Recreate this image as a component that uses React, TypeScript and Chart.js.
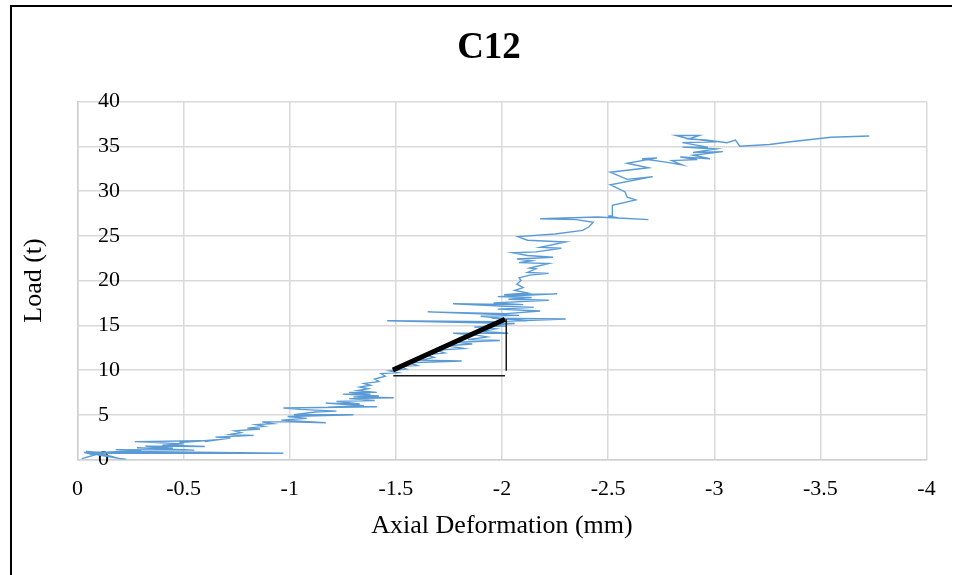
import React, { useEffect, useRef } from "react";
import { Chart, registerables } from "chart.js";

Chart.register(...registerables);

// ---- data ----
const xTickValues = [0, -0.5, -1, -1.5, -2, -2.5, -3, -3.5, -4];
const xTickLabels = ["0", "-0.5", "-1", "-1.5", "-2", "-2.5", "-3", "-3.5", "-4"];

// Axial deformation (mm)
const deformation = [
  -0.02, -0.08, -0.03, -0.12, -0.2, -0.23, -0.1, -0.04, -0.15, -0.97, -0.25, -0.08, -0.3, -0.18, -0.55, -0.28, -0.45,
  -0.32, -0.6, -0.4, -0.5, -0.27, -0.58, -0.48, -0.66,
  -0.6, -0.72, -0.65, -0.83, -0.72, -0.77, -0.74, -0.86, -0.8, -0.88, -0.84, -0.92, -0.87, -1.0, -1.17, -0.96, -1.08,
  -0.99, -1.3, -1.02, -1.12,
  -1.22, -1.05, -0.97, -1.41, -1.18, -1.35, -1.17, -1.33, -1.22, -1.4, -1.28, -1.49, -1.3, -1.42, -1.25, -1.38, -1.28,
  -1.41, -1.32, -1.37, -1.33, -1.38, -1.35, -1.42, -1.4, -1.45, -1.43, -1.51, -1.47, -1.55,
  -1.52, -1.6, -1.56, -1.81, -1.62, -1.68, -1.64, -1.73, -1.69, -1.82, -1.74, -1.86, -1.79, -1.99, -1.84, -1.93, -1.88,
  -1.77, -2.03, -1.91, -1.97, -1.87, -2.02, -1.93, -2.06, -1.46, -1.98, -2.3, -1.95, -2.12, -1.9, -2.08, -1.65, -2.02,
  -2.18, -1.98, -2.15, -2.04, -1.77, -2.1, -1.96, -2.22, -2.03, -2.14, -1.98, -2.26, -2.01, -2.12, -2.06, -2.1, -2.07,
  -2.09,
  -2.08, -2.13, -2.22, -2.12, -2.16, -2.13, -2.22, -2.08, -2.14, -2.07, -2.24, -2.12, -2.05, -2.16, -2.28, -2.18, -2.3,
  -2.12, -2.075, -2.25, -2.38, -2.41, -2.43, -2.35, -2.18, -2.45, -2.69, -2.55, -2.5, -2.52,
  -2.52, -2.63, -2.59, -2.58, -2.51, -2.71, -2.59, -2.51, -2.69, -2.59, -2.73, -2.66, -2.78, -2.85, -2.8, -2.92, -2.84,
  -2.98, -2.9, -3.04, -2.9, -3.01, -2.85, -2.97, -2.85, -3.01, -2.87, -2.82, -2.93, -2.88, -2.96, -3.06, -3.1, -3.12,
  -3.26, -3.36, -3.55, -3.73,
];

// Load (t)
const load = [
  0.1, 0.5, 0.8, 0.6, 0.1, 0.0, 0.5, 0.9, 0.7, 0.7, 0.9, 0.75, 1.0, 1.1, 1.05, 1.3, 1.25,
  1.5, 1.45, 1.6, 1.75, 2.0, 2.1, 1.9, 2.2,
  2.0, 2.4, 2.5, 2.7, 2.8, 3.0, 3.2, 3.4, 3.5, 3.7, 3.9, 4.0, 4.2, 4.2, 4.1, 4.4, 4.6,
  4.8, 5.0, 5.0, 5.3,
  5.4, 5.6, 5.75, 5.9, 5.85, 6.0, 6.3, 6.2, 6.5, 6.6, 6.8, 6.9, 7.0, 7.1, 7.3, 7.3, 7.5,
  7.5, 7.7, 7.9, 8.1, 8.3, 8.5, 8.7, 9.0, 9.3, 9.6, 9.7, 9.9, 10.1,
  10.4, 10.5, 10.8, 11.0, 11.1, 11.4, 11.7, 11.9, 12.2, 12.4, 12.7, 12.9, 13.1, 13.3, 13.4, 13.7, 13.9,
  14.1, 14.1, 14.3, 14.6, 14.8, 14.9, 15.0, 15.2, 15.5, 15.4, 15.7, 15.8, 15.5, 16.0, 16.1, 16.5, 16.3,
  16.6, 16.8, 17.0, 17.1, 17.4, 17.3, 17.5, 17.8, 17.9, 18.1, 18.2, 18.5, 18.4, 18.6, 18.9, 19.2, 19.6,
  20.0,
  20.3, 20.6, 20.8, 20.9, 21.3, 21.4, 21.9, 22.0, 22.2, 22.4, 22.6, 22.8, 23.1, 23.2, 23.6, 23.7, 24.3,
  24.5, 24.9, 25.2, 25.6, 26.0, 26.5, 26.8, 26.9, 27.1, 26.8, 27.0, 27.2, 27.2,
  28.4, 29.0, 29.3, 29.9, 30.7, 31.6, 31.3, 32.1, 32.6, 33.1, 33.7, 33.6, 33.2, 32.9, 33.4, 33.5, 33.8,
  33.6, 34.0, 34.4, 34.3, 34.7, 34.9, 34.9, 35.4, 35.5, 35.9, 36.2, 36.2, 35.8, 35.7, 35.4, 35.7, 35.0,
  35.2, 35.5, 36.0, 36.15,
];

// Stiffness triangle drawn on the curve
const slopeX = [-1.486, -2.014];
const slopeY = [10.0, 15.66];
const baseX = [-1.488, -2.014];
const baseY = [9.37, 9.37];
const riseX = [-2.02, -2.02];
const riseY = [9.92, 15.66];

const FONT = "'Liberation Serif', 'Times New Roman', serif";

const toPoints = (xs: number[], ys: number[]) => xs.map((x, i) => ({ x, y: ys[i] }));

export default function App() {
  const canvasRef = useRef<HTMLCanvasElement | null>(null);

  useEffect(() => {
    if (!canvasRef.current) return;
    const chart = new Chart(canvasRef.current, {
      type: "scatter",
      data: {
        datasets: [
          {
            data: toPoints(slopeX, slopeY),
            showLine: true,
            borderColor: "#000000",
            borderWidth: 5,
            pointRadius: 0,
            order: 0,
          },
          {
            data: toPoints(baseX, baseY),
            showLine: true,
            borderColor: "#1a1a1a",
            borderWidth: 1.5,
            pointRadius: 0,
            order: 1,
          },
          {
            data: toPoints(riseX, riseY),
            showLine: true,
            borderColor: "#1a1a1a",
            borderWidth: 1.5,
            pointRadius: 0,
            order: 2,
          },
          {
            data: toPoints(deformation, load),
            showLine: true,
            borderColor: "#5B9BD5",
            borderWidth: 1.4,
            pointRadius: 0,
            tension: 0,
            order: 3,
          },
        ],
      },
      options: {
        animation: false,
        responsive: false,
        devicePixelRatio: 1,
        layout: { padding: { left: 51.5, right: 29.5, top: 0, bottom: 32.8 } },
        plugins: {
          legend: { display: false },
          tooltip: { enabled: false },
          title: {
            display: true,
            text: "C12",
            color: "#000000",
            font: { family: FONT, size: 37, weight: "bold" },
            padding: { top: 25.8, bottom: 31.3 },
          },
        },
        scales: {
          x: {
            type: "linear",
            min: -4,
            max: 0,
            reverse: true,
            ticks: {
              stepSize: 0.5,
              padding: 16.3,
              color: "#000000",
              font: { family: FONT, size: 22 },
              callback: (v: any) => {
                const i = xTickValues.findIndex((t) => Math.abs(t - Number(v)) < 1e-6);
                return i >= 0 ? xTickLabels[i] : "";
              },
            },
            grid: { color: "#d9d9d9", lineWidth: 1.5, drawTicks: false },
            border: { color: "#d0d0d0", width: 1.5 },
            title: {
              display: true,
              text: "Axial Deformation (mm)",
              color: "#000000",
              font: { family: FONT, size: 26 },
              padding: { top: -7.5, bottom: 0 },
            },
          },
          y: {
            type: "linear",
            min: 0,
            max: 40,
            ticks: {
              stepSize: 5,
              mirror: true,
              padding: 20.5,
              color: "#000000",
              font: { family: FONT, size: 22 },
            },
            grid: { color: "#d9d9d9", lineWidth: 1.5, drawTicks: false },
            border: { color: "#d0d0d0", width: 1.5 },
            title: {
              display: true,
              text: "Load (t)",
              color: "#000000",
              font: { family: FONT, size: 26 },
              padding: { top: -33.2, bottom: -13 },
            },
          },
        },
      },
    } as any);
    return () => chart.destroy();
  }, []);

  return (
    <div
      style={{
        position: "absolute",
        left: 0,
        top: 0,
        width: 956,
        height: 575,
        overflow: "hidden",
        background: "#ffffff",
      }}
    >
      <canvas ref={canvasRef} width={956} height={575} style={{ display: "block" }} />
      <div
        style={{
          position: "absolute",
          left: 10,
          top: 5,
          width: 940,
          height: 568,
          borderTop: "2px solid #000",
          borderLeft: "2px solid #000",
          pointerEvents: "none",
        }}
      />
    </div>
  );
}
